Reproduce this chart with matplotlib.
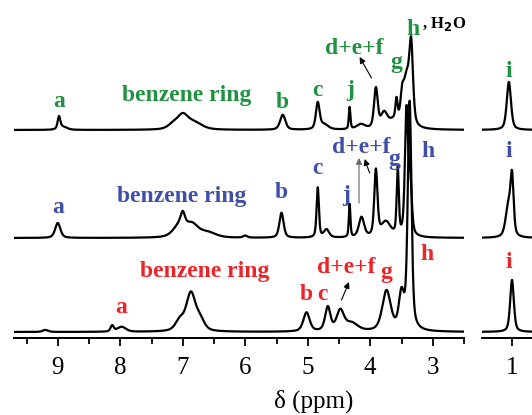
import numpy as np
import matplotlib.pyplot as plt

plt.rcParams['font.family'] = ['Liberation Serif', 'DejaVu Serif']

GREEN = '#1f9140'
BLUE = '#3f4fa8'
RED = '#ec2428'

# peak lists: centre (ppm), height, half width (ppm)
green_ppm = [8.98, 8.92, 7.15, 7.00, 6.82, 5.40, 4.84, 4.74, 4.33, 4.15,
             3.91, 3.78, 3.62, 3.58, 3.49, 3.42, 3.345, 1.05]
green_height = [12, 3, 5, 13, 7, 15, 26, 5, 22, 5,
                40, 14, 8, 20, 20, 48, 74, 48]
green_width = [0.025, 0.08, 0.10, 0.10, 0.15, 0.05, 0.035, 0.08, 0.015, 0.08,
               0.035, 0.06, 0.12, 0.02, 0.03, 0.06, 0.035, 0.04]

blue_ppm = [9.00, 7.05, 7.00, 6.85, 6.60, 6.00, 5.42, 4.84, 4.70, 4.33,
            4.14, 3.91, 3.75, 3.56, 3.42, 3.36, 1.06, 1.00]
blue_height = [15, 12, 12, 12, 5, 2, 25, 50, 8, 33,
               20, 66, 15, 66, 125, 50, 30, 56]
blue_width = [0.05, 0.12, 0.04, 0.12, 0.15, 0.04, 0.04, 0.022, 0.05, 0.015,
              0.05, 0.03, 0.09, 0.02, 0.03, 0.03, 0.05, 0.03]

red_ppm = [9.20, 8.13, 7.98, 7.05, 6.87, 6.72, 5.02, 4.68, 4.48, 4.30,
           3.74, 3.50, 3.37, 1.00]
red_height = [2, 6, 5, 10, 38, 10, 19, 24, 20, 8,
              40, 35, 228, 52]
red_width = [0.05, 0.03, 0.08, 0.08, 0.09, 0.08, 0.06, 0.05, 0.07, 0.12,
             0.08, 0.05, 0.035, 0.035]

ticks_left = [9, 8, 7, 6, 5, 4, 3]
ticks_right = [1]


def spectrum(x, ppm, height, width):
    y = np.zeros_like(x)
    for c, h, w in zip(ppm, height, width):
        u = (x - c) / w
        y += h * (0.5 / (1 + u**2) + 0.5 * np.exp(-np.log(2) * u**2))
    return y


fig = plt.figure(figsize=(5.32, 4.15), dpi=100)
ax1 = fig.add_axes([14 / 532, 1 - 338 / 415, 450 / 532, 338 / 415])
ax2 = fig.add_axes([482 / 532, 1 - 338 / 415, 50 / 532, 338 / 415])

x1 = np.linspace(9.7, 2.5, 3000)
x2 = np.linspace(1.48, 0.68, 600)
spectra = [(green_ppm, green_height, green_width, 208),
           (blue_ppm, blue_height, blue_width, 100),
           (red_ppm, red_height, red_width, 6)]
for ppm, height, width, off in spectra:
    ax1.plot(x1, off + spectrum(x1, ppm, height, width), color='k', lw=1.6)
    ax2.plot(x2, off + spectrum(x2, ppm, height, width), color='k', lw=1.6)

for ax, lim, ticks in [(ax1, (9.7, 2.5), ticks_left), (ax2, (1.48, 0.68), ticks_right)]:
    ax.set_xlim(*lim)
    ax.set_ylim(0, 338)
    for s in ['left', 'right', 'top']:
        ax.spines[s].set_visible(False)
    ax.spines['bottom'].set_linewidth(1.4)
    ax.set_yticks([])
    ax.set_xticks(ticks)
    ax.set_xticks(np.arange(np.ceil(lim[1] * 2) / 2, lim[0], 0.5), minor=True)
    ax.tick_params(axis='x', which='major', length=6, width=1.3, pad=8, labelsize=18)
    ax.tick_params(axis='x', which='minor', length=4, width=1.3)
    ax.patch.set_visible(False)

lab = dict(fontsize=17, fontweight='bold', ha='center', va='baseline')
labels_left = [
    (8.97, 231, 'a', GREEN), (6.94, 237, 'benzene ring', GREEN), (5.40, 230, 'b', GREEN),
    (4.84, 242, 'c', GREEN), (4.33, 242, 'j', GREEN), (4.25, 284, 'd+e+f', GREEN),
    (3.58, 270, 'g', GREEN), (3.32, 303, 'h', GREEN),
    (9.00, 125, 'a', BLUE), (7.02, 136, 'benzene ring', BLUE), (5.42, 140, 'b', BLUE),
    (4.84, 164, 'c', BLUE), (4.38, 137, 'j', BLUE), (4.14, 185, 'd+e+f', BLUE),
    (3.61, 173, 'g', BLUE), (3.08, 181, 'h', BLUE),
    (7.98, 25, 'a', RED), (6.65, 61, 'benzene ring', RED), (5.02, 38, 'b', RED),
    (4.76, 38, 'c', RED), (4.38, 65, 'd+e+f', RED), (3.74, 60, 'g', RED),
    (3.10, 78, 'h', RED),
]
for x, y, t, c in labels_left:
    ax1.text(x, y, t, color=c, **lab)
ax1.text(3.18, 310, ', H$_\\mathbf{2}$O', fontsize=12, fontweight='bold', ha='left', va='baseline')

for x, y, c in [(1.06, 261, GREEN), (1.06, 181, BLUE), (1.05, 70, RED)]:
    ax2.text(x, y, 'i', color=c, **lab)

arrows = [((3.98, 260), (4.17, 281), 'k'), ((4.18, 135), (4.18, 180), '0.4'),
          ((4.01, 165), (4.09, 179), 'k'), ((4.46, 38), (4.34, 56), 'k')]
for tail, head, c in arrows:
    ax1.annotate('', xy=head, xytext=tail,
                 arrowprops=dict(arrowstyle='-|>', lw=0.8, color=c, mutation_scale=9,
                                 shrinkA=0, shrinkB=0))

fig.text(314 / 532, 1 - 401 / 415, 'δ (ppm)', fontsize=18, ha='center', va='center')

fig.savefig('out.png', dpi=100)
